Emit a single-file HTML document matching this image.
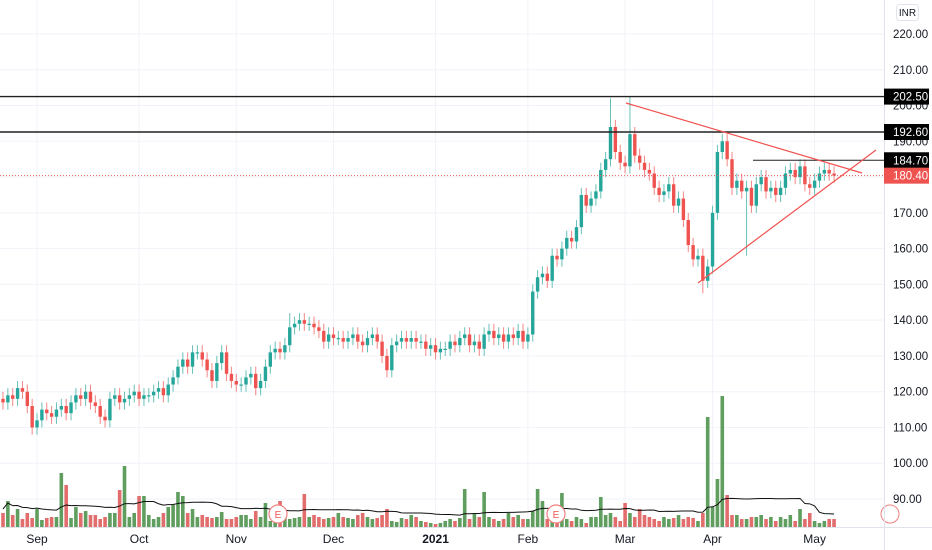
<!DOCTYPE html>
<html><head><meta charset="utf-8"><style>
html,body{margin:0;padding:0;background:#fff;}
svg{display:block;font-family:"Liberation Sans",sans-serif;}
</style></head><body>
<svg id="chart" width="932" height="550" viewBox="0 0 932 550">
<g id="grid"></g>
<g id="vol"></g>
<g id="candles"></g>
<g id="overlay"></g>
<g id="axis"></g>
<g id="taxis"></g>
</svg>
<script>
const closes=[117,119,118,121,120,116,110,112,115,114,
113,115,116,114,117,119,118,120,117,116,
113,112,118,119,117,118,119,120,118,119,
119,120,121,119,122,124,127,129,127,131,
131,129,126,123,128,131,125,123,122,122,
124,125,121,123,127,131,132,131,133,138,
139,140,139,139,138,137,134,136,135,135,
134,135,136,134,133,135,136,134,130,126,
133,134,135,134,135,134,134,132,133,131,
132,132,134,133,135,136,133,134,132,136,
137,135,136,134,136,135,137,134,136,148,
152,153,151,158,157,160,163,162,166,175,
172,174,176,182,185,194,187,184,183,192,
186,184,182,181,177,175,176,178,172,174,
168,161,157,158,151,155,170,187,190,185,
177,179,176,177,172,178,180,176,177,175,
177,181,182,180,183,178,177,179,181,182,
181,180.4];
const firstOpen=118;
const highSpikes={6:108,125:202,129:202.5,144:147.5,153:158,59:142};
const volumes=[14,26,12,18,8,14,9,18,7,9,
10,10,54,42,9,20,14,16,12,12,
8,10,14,14,37,61,10,14,31,31,
12,8,10,14,20,22,35,31,14,18,
10,12,10,9,10,15,8,8,10,12,
12,8,16,10,24,6,20,26,12,8,
9,10,33,10,12,10,8,9,10,14,
10,9,8,12,14,10,8,9,12,18,
6,5,9,8,12,10,6,5,4,3,
4,6,8,6,9,38,8,14,10,35,
10,8,6,8,14,10,12,8,8,16,
38,26,8,6,10,34,8,6,10,8,
4,10,10,30,12,14,10,6,24,14,
10,18,12,10,8,6,10,8,9,12,
8,10,9,6,14,110,20,48,131,32,
12,12,8,8,10,10,12,8,10,6,
10,8,12,6,18,8,14,6,4,6,
8,8];
const priceTicks=[220,210,200,190,180,170,160,150,140,130,120,110,100,90];
const levels=[202.5,192.6,184.7];
const lastPrice=180.4;
const monthLabels=["Sep","Oct","Nov","Dec","2021","Feb","Mar","Apr","May"];
const monthIdx=[7,28,48,68,89,108,128,146,167];

const NS="http://www.w3.org/2000/svg";
const X0=3,DX=4.86,PW=884;
function xs(i){return X0+DX*i;}
function ys(p){return 34+(220-p)*3.577;}
function vy(v){return 527-v;}
function mk(tag,attrs,parent){const e=document.createElementNS(NS,tag);for(const k in attrs)e.setAttribute(k,attrs[k]);parent.appendChild(e);return e;}
const grid=document.getElementById('grid'),vol=document.getElementById('vol'),cg=document.getElementById('candles'),ov=document.getElementById('overlay'),ax=document.getElementById('axis'),tx=document.getElementById('taxis');

priceTicks.forEach(p=>{const l=mk('line',{x1:0,x2:PW,y1:ys(p),y2:ys(p),stroke:'#f0f3fa','stroke-width':1},grid);
});
monthIdx.forEach(i=>{const l=mk('line',{x1:xs(i),x2:xs(i),y1:0,y2:527,stroke:'#f0f3fa'},grid);
});

volumes.forEach((v,i)=>{const o=i?closes[i-1]:firstOpen;const up=closes[i]>=o;
const r=mk('rect',{x:xs(i)-1.8,y:vy(v),width:3.6,height:v,fill:up?'#5f9e5f':'#e26d6d'},vol);
});
let pts=[];for(let i=0;i<volumes.length;i++){const s=Math.max(0,i-19);let a=0;for(let j=s;j<=i;j++)a+=volumes[j];pts.push(xs(i)+','+vy(a/(i-s+1)+4));}
const ma=mk('polyline',{points:pts.join(' '),fill:'none',stroke:'#111','stroke-width':1},vol);


closes.forEach((c,i)=>{const o=i?closes[i-1]:firstOpen;const up=c>=o;const col=up?'#26a69a':'#ef5350';
let hi=Math.max(o,c)+2,lo=Math.min(o,c)-2;if(highSpikes[i]!==undefined){const s=highSpikes[i];if(s>hi)hi=s;else if(s<lo)lo=s;}
const g=mk('g',{},cg);
mk('line',{x1:xs(i),x2:xs(i),y1:ys(hi),y2:ys(lo),stroke:col,'stroke-opacity':0.7,'stroke-width':1},g);
const top=ys(Math.max(o,c)),h=Math.max(1.2,Math.abs(ys(o)-ys(c)));
mk('rect',{x:xs(i)-1.7,y:top,width:3.4,height:h,fill:col},g);});

[[levels[0],0],[levels[1],0],[levels[2],753]].forEach(([p,x1],k)=>{const l=mk('line',{x1:x1,x2:PW,y1:ys(p),y2:ys(p),stroke:'#222','stroke-width':k<2?1.4:1},ov);
});
const dl=mk('line',{x1:0,x2:PW,y1:ys(lastPrice),y2:ys(lastPrice),stroke:'#ef5350','stroke-width':1,'stroke-dasharray':'1,2'},ov);

const t1=mk('line',{x1:626,y1:103,x2:862,y2:173,stroke:'#f0524f','stroke-width':1.2},ov);

const t2=mk('line',{x1:698,y1:283,x2:876,y2:150,stroke:'#f0524f','stroke-width':1.2},ov);

[278,556].forEach(x=>{const g=mk('g',{},ov);
mk('circle',{cx:x,cy:514,r:9,fill:'#fff',stroke:'#f08080','stroke-width':1.2},g);
const t=mk('text',{x:x,y:518,'text-anchor':'middle','font-size':10,fill:'#ef5350'},g);t.textContent='E';});

{const c=mk('circle',{cx:890,cy:514,r:9,fill:'#fff',stroke:'#f08080'},ax);}
const bl=mk('line',{x1:PW+0.5,x2:PW+0.5,y1:0,y2:550,stroke:'#e0e3eb'},ax);

priceTicks.forEach(p=>{const t=mk('text',{x:893,y:ys(p)+4,'font-size':11.5,fill:'#131722'},ax);t.textContent=p.toFixed(2);
});
levels.forEach(p=>{const g=mk('g',{},ax);
mk('rect',{x:884,y:ys(p)-8,width:45,height:16,fill:'#000'},g);
const t=mk('text',{x:893,y:ys(p)+4,'font-size':11.5,fill:'#fff'},g);t.textContent=p.toFixed(2);});
{const g=mk('g',{},ax);
mk('rect',{x:884,y:ys(lastPrice)-8,width:45,height:16,fill:'#ef5350'},g);
const t=mk('text',{x:893,y:ys(lastPrice)+4,'font-size':11.5,fill:'#fff'},g);t.textContent=lastPrice.toFixed(2);}
{const g=mk('g',{},ax);
mk('rect',{x:896.5,y:4.5,width:22,height:16,rx:3,fill:'#fff',stroke:'#e0e3eb'},g);
const t=mk('text',{x:907.5,y:16,'text-anchor':'middle','font-size':10,fill:'#131722'},g);t.textContent='INR';}

const tl=mk('line',{x1:0,x2:932,y1:527.5,y2:527.5,stroke:'#e0e3eb'},tx);

monthLabels.forEach((m,k)=>{const t=mk('text',{x:xs(monthIdx[k]),y:543,'text-anchor':'middle','font-size':12,fill:'#131722','font-weight':m==='2021'?'bold':'normal'},tx);t.textContent=m;
});
</script>
</body></html>
